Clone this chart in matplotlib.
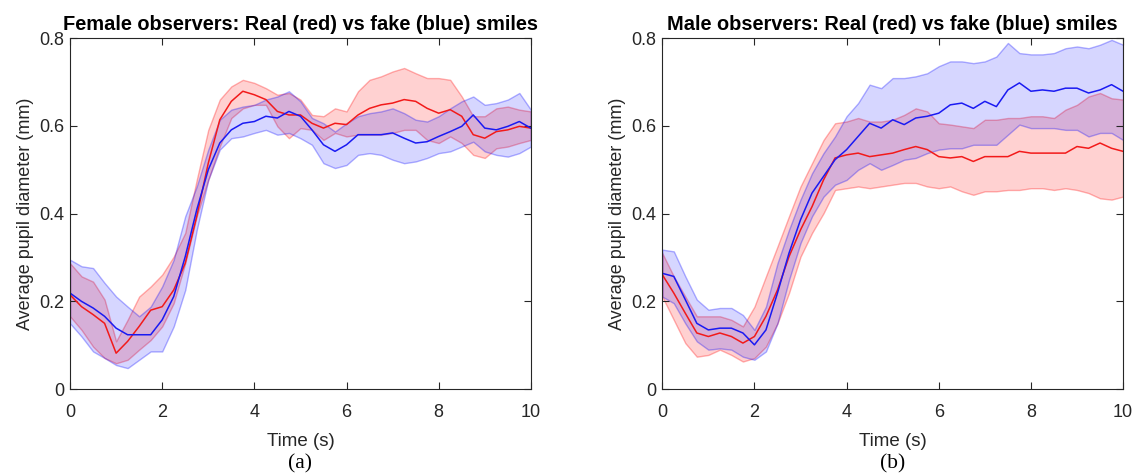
import numpy as np
import matplotlib
matplotlib.use("Agg")
import matplotlib.pyplot as plt
from matplotlib.ticker import FuncFormatter

# tiempo (s), paso 0.25
t = np.arange(0, 10.01, 0.25)

# panel (a): observadoras
fem_real_mean = [0.215, 0.188, 0.170, 0.150, 0.082, 0.109, 0.143, 0.180, 0.188, 0.226, 0.287, 0.394, 0.515, 0.614,
                 0.656, 0.679, 0.671, 0.660, 0.633, 0.625, 0.625, 0.606, 0.595, 0.606, 0.603, 0.625, 0.640, 0.648,
                 0.652, 0.660, 0.656, 0.640, 0.629, 0.637, 0.622, 0.580, 0.572, 0.587, 0.591, 0.599, 0.595]
fem_real_up = [0.287, 0.257, 0.245, 0.204, 0.109, 0.158, 0.211, 0.234, 0.261, 0.302, 0.356, 0.477, 0.591, 0.660,
               0.690, 0.705, 0.698, 0.686, 0.671, 0.675, 0.660, 0.625, 0.622, 0.640, 0.633, 0.679, 0.705, 0.713,
               0.724, 0.732, 0.720, 0.709, 0.709, 0.705, 0.667, 0.622, 0.622, 0.640, 0.644, 0.637, 0.633]
fem_real_lo = [0.166, 0.135, 0.097, 0.071, 0.059, 0.067, 0.090, 0.112, 0.143, 0.196, 0.287, 0.394, 0.477, 0.553,
               0.618, 0.640, 0.648, 0.648, 0.599, 0.572, 0.595, 0.591, 0.568, 0.584, 0.576, 0.580, 0.580, 0.580,
               0.584, 0.591, 0.591, 0.568, 0.561, 0.576, 0.561, 0.534, 0.527, 0.549, 0.553, 0.561, 0.568]
fem_fake_mean = [0.219, 0.200, 0.185, 0.166, 0.139, 0.124, 0.124, 0.124, 0.158, 0.211, 0.302, 0.409, 0.500, 0.561,
                 0.591, 0.606, 0.610, 0.622, 0.618, 0.633, 0.622, 0.591, 0.557, 0.542, 0.557, 0.580, 0.580, 0.580,
                 0.584, 0.572, 0.561, 0.564, 0.576, 0.587, 0.599, 0.625, 0.595, 0.591, 0.599, 0.610, 0.595]
fem_fake_up = [0.295, 0.280, 0.276, 0.242, 0.211, 0.188, 0.166, 0.188, 0.234, 0.295, 0.394, 0.462, 0.546, 0.614,
               0.637, 0.644, 0.648, 0.660, 0.667, 0.679, 0.656, 0.618, 0.606, 0.587, 0.606, 0.622, 0.629, 0.633,
               0.640, 0.629, 0.614, 0.610, 0.622, 0.640, 0.656, 0.667, 0.648, 0.652, 0.660, 0.675, 0.637]
fem_fake_lo = [0.150, 0.120, 0.086, 0.071, 0.055, 0.048, 0.067, 0.086, 0.086, 0.143, 0.226, 0.363, 0.477, 0.546,
               0.572, 0.576, 0.584, 0.591, 0.580, 0.584, 0.572, 0.557, 0.515, 0.504, 0.511, 0.534, 0.538, 0.534,
               0.523, 0.515, 0.519, 0.527, 0.538, 0.542, 0.553, 0.564, 0.542, 0.534, 0.530, 0.538, 0.553]

# panel (b): observadores
mal_real_mean = [0.261, 0.219, 0.173, 0.128, 0.120, 0.128, 0.120, 0.105, 0.120, 0.166, 0.226, 0.302, 0.363, 0.416,
                 0.477, 0.527, 0.534, 0.538, 0.530, 0.534, 0.538, 0.546, 0.553, 0.546, 0.530, 0.527, 0.530, 0.519,
                 0.530, 0.530, 0.530, 0.542, 0.538, 0.538, 0.538, 0.538, 0.553, 0.549, 0.561, 0.549, 0.542]
mal_real_up = [0.310, 0.257, 0.211, 0.166, 0.166, 0.166, 0.158, 0.143, 0.188, 0.257, 0.325, 0.394, 0.462, 0.515,
               0.568, 0.606, 0.610, 0.618, 0.610, 0.610, 0.614, 0.625, 0.640, 0.633, 0.606, 0.603, 0.599, 0.595,
               0.614, 0.614, 0.618, 0.618, 0.622, 0.622, 0.618, 0.637, 0.648, 0.667, 0.675, 0.663, 0.660]
mal_real_lo = [0.211, 0.158, 0.105, 0.074, 0.078, 0.090, 0.078, 0.063, 0.071, 0.097, 0.150, 0.219, 0.302, 0.356,
               0.401, 0.454, 0.458, 0.462, 0.458, 0.462, 0.466, 0.470, 0.470, 0.462, 0.458, 0.462, 0.451, 0.443,
               0.451, 0.451, 0.454, 0.454, 0.458, 0.458, 0.454, 0.458, 0.454, 0.447, 0.435, 0.432, 0.439]
mal_fake_mean = [0.264, 0.257, 0.204, 0.150, 0.135, 0.139, 0.139, 0.128, 0.101, 0.135, 0.219, 0.310, 0.386, 0.447,
                 0.485, 0.523, 0.546, 0.576, 0.606, 0.595, 0.614, 0.603, 0.618, 0.622, 0.629, 0.648, 0.652, 0.640,
                 0.656, 0.644, 0.682, 0.698, 0.679, 0.682, 0.679, 0.686, 0.686, 0.675, 0.682, 0.694, 0.679]
mal_fake_up = [0.318, 0.314, 0.257, 0.204, 0.181, 0.185, 0.185, 0.169, 0.135, 0.188, 0.287, 0.363, 0.432, 0.492,
               0.538, 0.576, 0.622, 0.652, 0.694, 0.686, 0.709, 0.709, 0.713, 0.720, 0.736, 0.747, 0.747, 0.743,
               0.747, 0.758, 0.789, 0.766, 0.763, 0.763, 0.766, 0.777, 0.781, 0.777, 0.785, 0.796, 0.785]
mal_fake_lo = [0.211, 0.196, 0.150, 0.109, 0.090, 0.093, 0.090, 0.074, 0.067, 0.086, 0.150, 0.249, 0.333, 0.394,
               0.439, 0.466, 0.477, 0.500, 0.515, 0.500, 0.511, 0.523, 0.527, 0.538, 0.546, 0.549, 0.549, 0.557,
               0.557, 0.557, 0.580, 0.603, 0.595, 0.595, 0.595, 0.591, 0.591, 0.576, 0.584, 0.584, 0.568]

titles = ["Female observers: Real (red) vs fake (blue) smiles",
          "Male observers: Real (red) vs fake (blue) smiles"]
labels = ["(a)", "(b)"]

plt.rcParams['font.family'] = ['Liberation Sans', 'DejaVu Sans']

fig = plt.figure(figsize=(11.35, 4.74), dpi=100)
ax1 = fig.add_axes([0.0617, 0.179, 0.406, 0.7405])
ax2 = fig.add_axes([0.5835, 0.179, 0.4060, 0.7405])

paneles = [
    (ax1, fem_real_mean, fem_real_up, fem_real_lo, fem_fake_mean, fem_fake_up, fem_fake_lo),
    (ax2, mal_real_mean, mal_real_up, mal_real_lo, mal_fake_mean, mal_fake_up, mal_fake_lo),
]

gris = "#262626"
for i, (ax, rm, ru, rl, fm, fu, fl) in enumerate(paneles):
    ax.fill_between(t, rl, ru, facecolor=(1, 0, 0, 0.18), edgecolor=(1, 0, 0, 0.3), linewidth=1)
    ax.fill_between(t, fl, fu, facecolor=(0, 0, 1, 0.16), edgecolor=(0, 0, 1, 0.3), linewidth=1)
    ax.plot(t, rm, color=(0.95, 0.1, 0.1), linewidth=1.1)
    ax.plot(t, fm, color=(0.1, 0.1, 0.95), linewidth=1.1)
    ax.set_xlim(0, 10)
    ax.set_ylim(0, 0.8)
    ax.set_xticks([0, 2, 4, 6, 8, 10])
    ax.set_yticks([0, 0.2, 0.4, 0.6, 0.8])
    ax.yaxis.set_major_formatter(FuncFormatter(lambda v, p: "0" if v == 0 else "%g" % v))
    ax.tick_params(direction="in", top=True, right=True, labelsize=13, colors=gris,
                   length=5, width=0.8)
    ax.tick_params(axis="x", pad=11)
    ax.tick_params(axis="y", pad=4)
    for s in ax.spines.values():
        s.set_color(gris)
        s.set_linewidth(0.8)
    ax.set_title(titles[i], fontsize=14.4, fontweight="bold", pad=6)
    ax.set_xlabel("Time (s)", fontsize=13.5, color=gris, labelpad=8)
    ax.set_ylabel("Average pupil diameter (mm)", fontsize=13, color=gris, labelpad=4)

fig.text(0.2645, 0.012, labels[0], ha="center", fontsize=15.5, family="Liberation Serif")
fig.text(0.7865, 0.012, labels[1], ha="center", fontsize=15.5, family="Liberation Serif")

plt.savefig("out.png", dpi=100)
